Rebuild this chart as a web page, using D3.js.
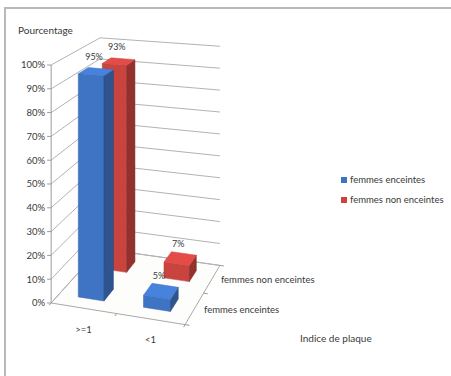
<!DOCTYPE html>
<html><head><meta charset="utf-8">
<script src="https://cdn.jsdelivr.net/npm/d3@7"></script>
<style>
body{margin:0;background:#fff}
svg text{font-family:Lato,"Open Sans",sans-serif;fill:#3a3a3a}
</style>
</head><body>
<svg id="chart" width="451" height="376"></svg>
<script>
// Data
const categories = [">=1", "<1"];
const seriesNames = ["femmes enceintes", "femmes non enceintes"];
const enceintes = [95, 5];
const nonEnceintes = [93, 7];
const yTicks = [0, 10, 20, 30, 40, 50, 60, 70, 80, 90, 100];
const seriesColors = ["#3f73c3", "#c9443f"];

const seriesValues = [enceintes, nonEnceintes];

const svg = d3.select("#chart");

// Frame
svg.append("rect").attr("x", 5).attr("y", 8).attr("width", 450).attr("height", 375)
  .attr("fill", "#fff").attr("stroke", "#b9b9b9").attr("stroke-width", 2);

// 3D box in world units: X = categories, Y = value, Z = series (depth)
const W = 159, H = 268.3, D = 134.6;
const x = d3.scaleBand().domain(categories).range([0, W]).paddingInner(0.6).paddingOuter(0.3);
const z = d3.scaleBand().domain(seriesNames).range([0, D]).paddingInner(0.6).paddingOuter(0.3);
const y = d3.scaleLinear().domain([0, 100]).range([0, H]);

// Two-point perspective camera with a vertical picture plane
const cam = { cx: 225, horizon: -172, f: 887, phi: 15.9 * Math.PI / 180, origin: [-196, -535.5, 1000] };
const cphi = Math.cos(cam.phi), sphi = Math.sin(cam.phi);
function toCamera(px, py, pz) {
  return [
    cam.origin[0] + px * cphi + pz * sphi,
    cam.origin[1] + py,
    cam.origin[2] - px * sphi + pz * cphi
  ];
}
function project(px, py, pz) {
  const c = toCamera(px, py, pz);
  return [cam.cx + cam.f * c[0] / c[2], cam.horizon - cam.f * c[1] / c[2]];
}
const line = pts => "M" + pts.map(p => project(...p).join(",")).join("L");
const poly = pts => line(pts) + "Z";

const grid = svg.append("g");
const gridColor = "#b3b3b3";

// Floor
grid.append("path").attr("d", poly([[0,0,0],[W,0,0],[W,0,D],[0,0,D]]))
  .attr("fill", "#fdfdfb").attr("stroke", "#a9a9a9").attr("stroke-width", 1);

// Gridlines on side wall and back wall
yTicks.forEach(t => {
  const yy = y(t);
  grid.append("path").attr("d", line([[0,yy,0],[0,yy,D],[W,yy,D]]))
    .attr("fill", "none").attr("stroke", gridColor).attr("stroke-width", 1);
});

// Vertical axis line and ticks
grid.append("path").attr("d", line([[0,0,0],[0,H,0]])).attr("stroke", "#9a9a9a").attr("fill", "none");
const yAxisG = svg.append("g");
yTicks.forEach(t => {
  const p = project(0, y(t), 0);
  yAxisG.append("line").attr("x1", p[0] - 4).attr("x2", p[0]).attr("y1", p[1]).attr("y2", p[1])
    .attr("stroke", "#9a9a9a");
  yAxisG.append("text").attr("x", p[0] - 6).attr("y", p[1]).attr("dy", "0.35em")
    .attr("text-anchor", "end").attr("font-size", 9.5).text(t + "%");
});

// Category axis ticks along front edge, series ticks along right edge
[0, x.step(), W].forEach(v => {
  grid.append("path").attr("d", line([[v,0,0],[v,0,-5]])).attr("stroke", "#9a9a9a").attr("fill", "none");
});
[0, z.step(), D].forEach(v => {
  grid.append("path").attr("d", line([[W,0,v],[W+5,0,v]])).attr("stroke", "#9a9a9a").attr("fill", "none");
});

// Bars (back row first)
const bars = [];
seriesNames.forEach((s, si) => {
  categories.forEach((c, ci) => {
    bars.push({ si, ci, s, c, v: seriesValues[si][ci] });
  });
});
bars.sort((a, b) => b.si - a.si);

const shade = (col, k) => d3.color(col).darker(k).formatHex();
const barG = svg.append("g");

bars.forEach(b => {
  const x0 = x(b.c), x1 = x0 + x.bandwidth();
  const z0 = z(b.s), z1 = z0 + z.bandwidth();
  const y1 = y(b.v);
  const base = seriesColors[b.si];
  const faces = [
    { pts: [[x0,0,z0],[x1,0,z0],[x1,y1,z0],[x0,y1,z0]], n: [0,0,-1], col: base },
    { pts: [[x1,0,z0],[x1,0,z1],[x1,y1,z1],[x1,y1,z0]], n: [1,0,0], col: shade(base, 0.9) },
    { pts: [[x0,0,z1],[x0,0,z0],[x0,y1,z0],[x0,y1,z1]], n: [-1,0,0], col: shade(base, 0.6) },
    { pts: [[x0,y1,z0],[x1,y1,z0],[x1,y1,z1],[x0,y1,z1]], n: [0,1,0], col: d3.color(base).brighter(0.35).formatHex() }
  ];
  faces.forEach(fc => {
    // visibility: face normal (camera space) against direction to the eye
    const c = toCamera(...fc.pts[0]);
    const nc = [fc.n[0]*cphi + fc.n[2]*sphi, fc.n[1], -fc.n[0]*sphi + fc.n[2]*cphi];
    const dot = -(nc[0]*c[0] + nc[1]*c[1] + nc[2]*c[2]);
    if (dot <= 0) return;
    barG.append("path").attr("d", poly(fc.pts)).attr("fill", fc.col)
      .attr("stroke", shade(fc.col, 0.3)).attr("stroke-width", 0.5).attr("stroke-linejoin", "round");
  });
  // data label above the top face
  const t = project(x0 + x.bandwidth()/2, y1, z0 + z.bandwidth()/2);
  barG.append("text").attr("x", t[0] - 2).attr("y", t[1] - 15).attr("dy", "0.35em")
    .attr("text-anchor", "middle").attr("font-size", 9).text(b.v + "%");
});

// Category labels
categories.forEach(c => {
  const p = project(x(c) + x.bandwidth()/2, 0, 0);
  svg.append("text").attr("x", p[0]).attr("y", p[1] + 21).attr("dy", "0.35em")
    .attr("text-anchor", "middle").attr("font-size", 9.5).text(c);
});

// Series (depth) labels
seriesNames.forEach(s => {
  const p = project(W + 11, 0, z(s) + z.bandwidth()/2);
  svg.append("text").attr("x", p[0]).attr("y", p[1]).attr("dy", "0.35em")
    .attr("font-size", 9.5).text(s);
});

// Axis titles
svg.append("text").attr("x", 18).attr("y", 30).attr("dy", "0.35em").attr("font-size", 10).text("Pourcentage");
svg.append("text").attr("x", 300).attr("y", 338).attr("dy", "0.35em").attr("font-size", 10).text("Indice de plaque");

// Legend
const legend = svg.append("g").attr("transform", "translate(341,180)");
seriesNames.forEach((s, i) => {
  const g = legend.append("g").attr("transform", `translate(0,${i * 20})`);
  g.append("rect").attr("x", 0).attr("y", -3).attr("width", 6).attr("height", 6).attr("fill", seriesColors[i]);
  g.append("text").attr("x", 9).attr("y", 0).attr("dy", "0.35em").attr("font-size", 9.5).text(s);
});
</script>
</body></html>
